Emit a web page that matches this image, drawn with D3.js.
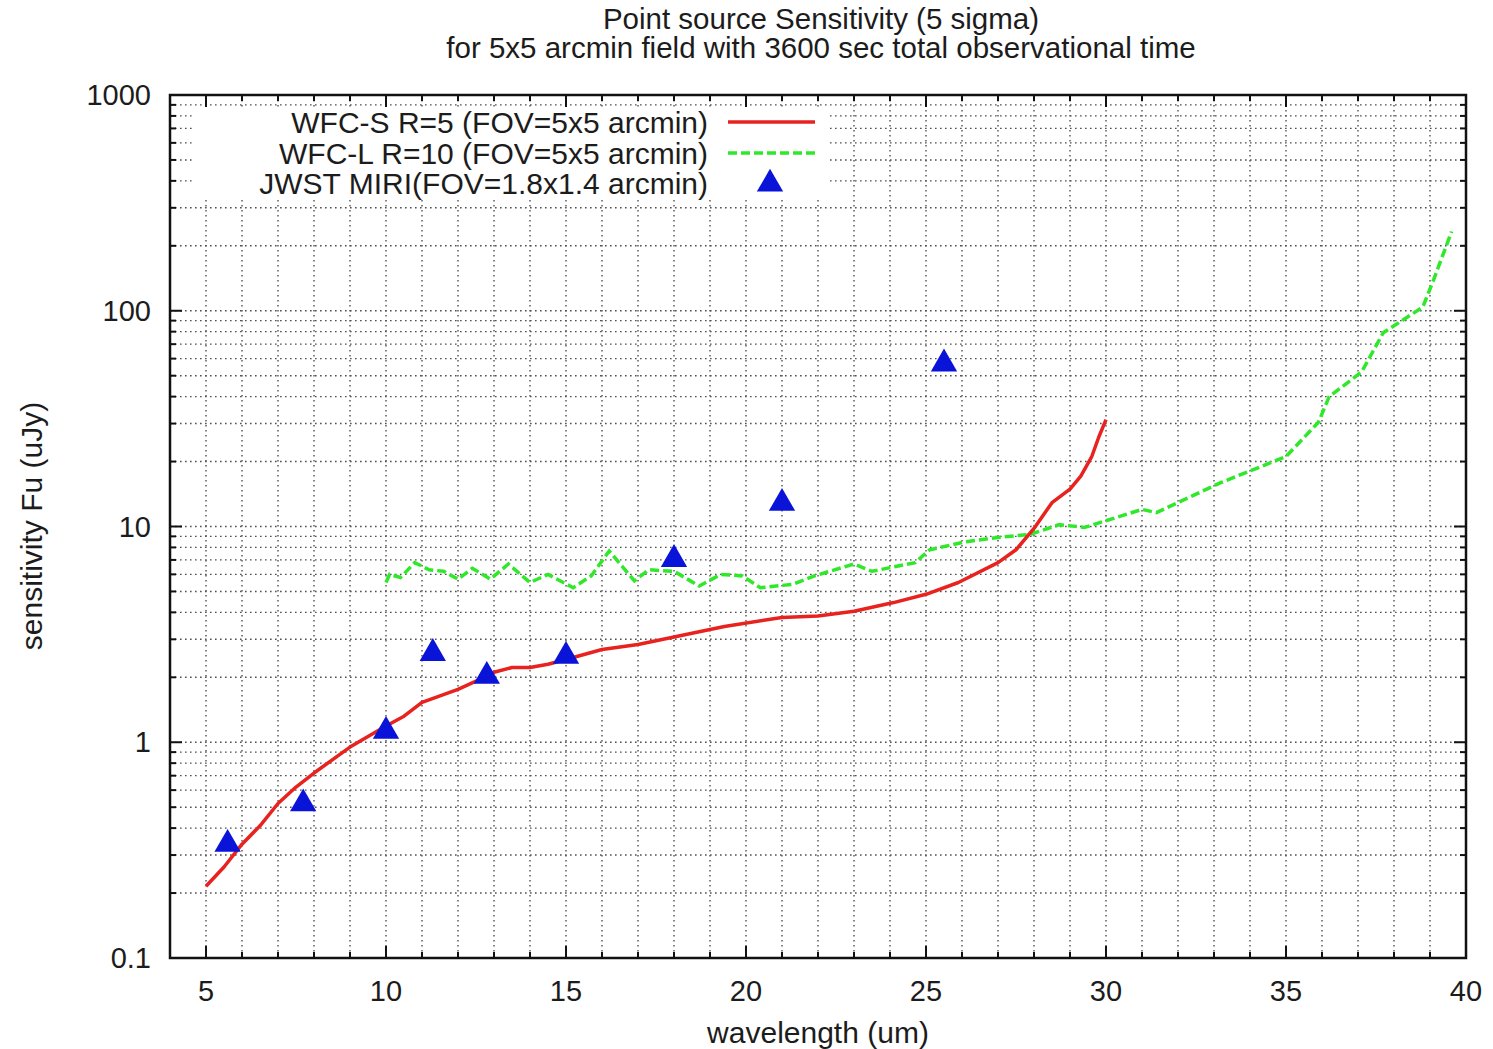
<!doctype html>
<html>
<head>
<meta charset="utf-8">
<title>Point source Sensitivity</title>
<script src="https://d3js.org/d3.v7.min.js"></script>
<style>
  html, body { margin: 0; background: #fff; }
  svg text { font-family: "Liberation Sans", Arial, sans-serif; fill: #1c1c1c; }
</style>
</head>
<body>
<svg id="chart" width="1493" height="1049"></svg>
<script>
// WFC-S R=5 (wavelength um, sensitivity uJy)
var wfcsX = [5, 5.5, 6, 6.5, 7, 7.5, 8, 9, 10, 10.5, 11, 12, 12.5, 13, 13.5, 14, 14.5, 15, 16, 17, 18.1, 19.4, 21, 22, 23, 24.1, 25, 25.9, 27, 27.5, 28, 28.5, 29, 29.3, 29.6, 29.8, 30];
var wfcsY = [0.215, 0.264, 0.337, 0.41, 0.52, 0.62, 0.72, 0.95, 1.19, 1.32, 1.53, 1.76, 1.92, 2.11, 2.22, 2.22, 2.30, 2.42, 2.69, 2.84, 3.10, 3.44, 3.79, 3.85, 4.05, 4.44, 4.85, 5.5, 6.8, 7.8, 9.8, 12.9, 14.9, 17.1, 21, 26, 31.3];

// WFC-L R=10
var wfclX = [10, 10.1, 10.4, 10.8, 11.2, 11.6, 12.0, 12.4, 12.9, 13.4, 14.0, 14.5, 15.2, 15.7, 16.2, 16.9, 17.3, 18.0, 18.7, 19.3, 19.9, 20.4, 21.3, 21.9, 23.0, 23.5, 24.7, 25.1, 26.1, 27.0, 27.9, 28.7, 29.4, 31.0, 31.4, 33.2, 35.0, 35.9, 36.2, 37.1, 37.7, 38.8, 39.1, 39.6];
var wfclY = [5.5, 6.0, 5.8, 6.8, 6.3, 6.2, 5.7, 6.4, 5.7, 6.7, 5.5, 6.0, 5.2, 5.9, 7.7, 5.6, 6.3, 6.2, 5.3, 6.0, 5.9, 5.2, 5.4, 5.9, 6.7, 6.2, 6.8, 7.8, 8.5, 8.9, 9.2, 10.2, 9.9, 12.0, 11.6, 16.0, 21.1, 30.4, 40, 52, 79, 104, 139, 233];

// JWST MIRI
var miriX = [5.6, 7.7, 10, 11.3, 12.8, 15, 18, 21, 25.5];
var miriY = [0.344, 0.53, 1.15, 2.64, 2.07, 2.56, 7.2, 13.1, 58];

var xTicks = [5, 10, 15, 20, 25, 30, 35, 40];
var yTicks = [0.1, 1, 10, 100, 1000];
var yTickLabels = ["0.1", "1", "10", "100", "1000"];
var titleLines = ["Point source Sensitivity (5 sigma)", "for 5x5 arcmin field with 3600 sec total observational time"];
var legendLabels = ["WFC-S R=5 (FOV=5x5 arcmin)", "WFC-L R=10 (FOV=5x5 arcmin)", "JWST MIRI(FOV=1.8x1.4 arcmin)"];

var pLeft = 170, pRight = 1466, pTop = 95, pBottom = 958;
var svg = d3.select("#chart");

var x = d3.scaleLinear().domain([4, 40]).range([pLeft, pRight]);
var y = d3.scaleLog().domain([0.1, 1000]).range([pBottom, pTop]);

// minor values
var xMinor = d3.range(4, 41, 1);
var yMinor = [];
[0.1, 1, 10, 100].forEach(function(d) {
  for (var k = 1; k < 10; k++) yMinor.push(d * k);
});
yMinor.push(1000);

// grid
var grid = svg.append("g").attr("stroke", "#333").attr("stroke-width", 1.4).attr("stroke-dasharray", "1.6,3.4").attr("opacity", 0.85);
grid.selectAll(".gx").data(xMinor.filter(function(d) { return d > 4 && d < 40; }))
  .enter().append("line")
  .attr("x1", function(d) { return x(d); }).attr("x2", function(d) { return x(d); })
  .attr("y1", pTop).attr("y2", pBottom);
grid.selectAll(".gy").data(yMinor.filter(function(d) { return d > 0.1 && d < 1000; }))
  .enter().append("line")
  .attr("y1", function(d) { return y(d); }).attr("y2", function(d) { return y(d); })
  .attr("x1", pLeft).attr("x2", pRight);

// legend background hides the grid
svg.append("rect").attr("x", 193).attr("y", 108).attr("width", 637).attr("height", 90).attr("fill", "#fff");

// ticks (inward, mirrored on all sides)
var ticks = svg.append("g").attr("stroke", "#111").attr("stroke-width", 2);
xMinor.forEach(function(d) {
  var len = xTicks.indexOf(d) >= 0 ? 12 : 6;
  ticks.append("line").attr("x1", x(d)).attr("x2", x(d)).attr("y1", pBottom).attr("y2", pBottom - len);
  ticks.append("line").attr("x1", x(d)).attr("x2", x(d)).attr("y1", pTop).attr("y2", pTop + len);
});
yMinor.forEach(function(d) {
  var len = yTicks.indexOf(d) >= 0 ? 12 : 6;
  ticks.append("line").attr("y1", y(d)).attr("y2", y(d)).attr("x1", pLeft).attr("x2", pLeft + len);
  ticks.append("line").attr("y1", y(d)).attr("y2", y(d)).attr("x1", pRight).attr("x2", pRight - len);
});

// border
svg.append("rect").attr("x", pLeft).attr("y", pTop).attr("width", pRight - pLeft).attr("height", pBottom - pTop)
  .attr("fill", "none").attr("stroke", "#111").attr("stroke-width", 2.5);

// tick labels
svg.selectAll(".xl").data(xTicks).enter().append("text")
  .attr("x", function(d) { return x(d); }).attr("y", 1001)
  .attr("text-anchor", "middle").attr("font-size", 29)
  .text(function(d) { return d; });
svg.selectAll(".yl").data(yTicks).enter().append("text")
  .attr("x", 151).attr("y", function(d) { return y(d) + 10; })
  .attr("text-anchor", "end").attr("font-size", 29)
  .text(function(d, i) { return yTickLabels[i]; });

// axis titles
svg.append("text").attr("x", 818).attr("y", 1043).attr("text-anchor", "middle").attr("font-size", 30).text("wavelength (um)");
svg.append("text").attr("transform", "translate(42,526) rotate(-90)").attr("text-anchor", "middle").attr("font-size", 30).text("sensitivity Fu (uJy)");

// title
svg.selectAll(".title").data(titleLines).enter().append("text")
  .attr("x", 821).attr("y", function(d, i) { return 29 + i * 28.5; })
  .attr("text-anchor", "middle").attr("font-size", 29.5)
  .text(function(d) { return d; });

// lines
var line = d3.line().x(function(d) { return x(d[0]); }).y(function(d) { return y(d[1]); });
var redColor = "#e8231f", greenColor = "#2fe82a", blueColor = "#0a14d8";

svg.append("path").datum(d3.zip(wfclX, wfclY)).attr("d", line)
  .attr("fill", "none").attr("stroke", greenColor).attr("stroke-width", 3.5).attr("stroke-dasharray", "9,4");
svg.append("path").datum(d3.zip(wfcsX, wfcsY)).attr("d", line)
  .attr("fill", "none").attr("stroke", redColor).attr("stroke-width", 3.5).attr("stroke-linejoin", "round");

// triangles
var tri = d3.symbol().type(d3.symbolTriangle).size(300);
svg.selectAll(".miri").data(d3.zip(miriX, miriY)).enter().append("path")
  .attr("d", tri)
  .attr("transform", function(d) { return "translate(" + x(d[0]) + "," + (y(d[1]) + 2) + ")"; })
  .attr("fill", blueColor);

// legend
var legY = [122, 153, 183];
svg.selectAll(".lt").data(legendLabels).enter().append("text")
  .attr("x", 708).attr("y", function(d, i) { return legY[i] + 11; })
  .attr("text-anchor", "end").attr("font-size", 30)
  .text(function(d) { return d; });
svg.append("line").attr("x1", 728).attr("x2", 815).attr("y1", legY[0]).attr("y2", legY[0])
  .attr("stroke", redColor).attr("stroke-width", 3.5);
svg.append("line").attr("x1", 728).attr("x2", 815).attr("y1", legY[1]).attr("y2", legY[1])
  .attr("stroke", greenColor).attr("stroke-width", 3.5).attr("stroke-dasharray", "9,4");
svg.append("path").attr("d", tri).attr("transform", "translate(770," + (legY[2] + 1) + ")").attr("fill", blueColor);
</script>
</body>
</html>
